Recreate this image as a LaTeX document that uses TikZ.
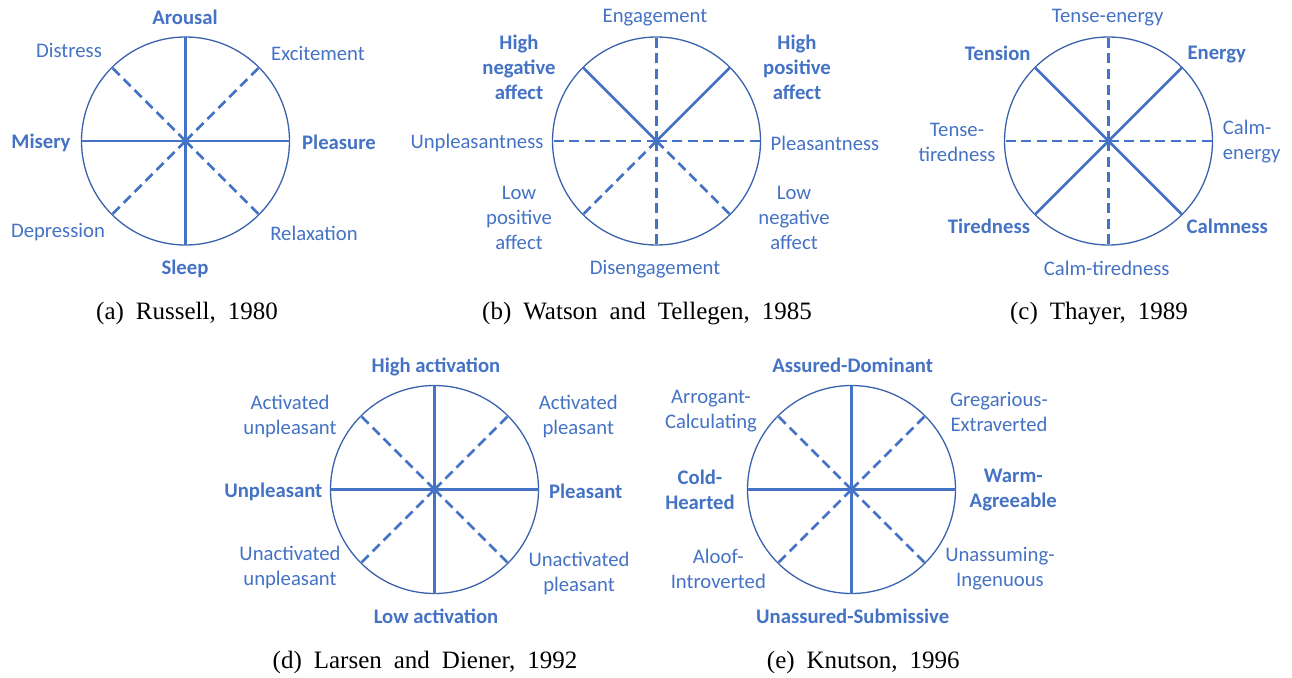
\documentclass[tikz,border=0pt]{standalone}
\usepackage{fontspec}
\setmainfont{Liberation Serif}
\newfontfamily\carl{Carlito}
\definecolor{lblue}{HTML}{4472C4}
\definecolor{cblue}{HTML}{3A62AC}
\newcommand\labfont{\carl\fontsize{20.7}{25}\selectfont}
\newcommand\capfont{\rmfamily\fontsize{25}{30}\selectfont\spaceskip=0.48em plus 0.1em\relax}
\tikzset{
 wheel/.style={circle, draw=cblue, line width=1.3pt, minimum size=208pt, inner sep=0pt, outer sep=0pt},
 axis/.style={draw=lblue, line width=2.6pt},
 dashaxis/.style={axis, dash pattern=on 10pt off 5.5pt},
 lbl/.style={text=lblue, font=\labfont, inner sep=0pt, align=center},
 blbl/.style={lbl, font=\labfont\bfseries},
 capt/.style={font=\capfont, inner sep=0pt},
}
\begin{document}
\begin{tikzpicture}[x=1pt,y=-1pt]
\useasboundingbox (0,0) rectangle (1292,677);

% ---------------- (a) Russell
\node[wheel] (A) at (185.5,141) {};
\draw[axis] (A.north) -- (A.south);
\draw[axis] (A.west) -- (A.east);
\foreach \d in {north east,north west,south east,south west}
  \draw[dashaxis] (A.center) -- (A.\d);
\node[blbl] (a1) at (185,17) {Arousal};
\node[lbl]  (a2) at (69,50) {Distress};
\node[lbl]  (a3) at (318,53) {Excitement};
\node[blbl] (a4) at (41,143) {Misery};
\node[blbl] (a5) at (339,142) {Pleasure};
\node[lbl]  (a6) at (58,232) {Depression};
\node[lbl]  (a7) at (314,233) {Relaxation};
\node[blbl] (a8) at (185,269) {Sleep};
\node[capt] (acap) at (187,313.5) {(a) Russell, 1980};

% ---------------- (b) Watson and Tellegen
\node[wheel] (B) at (656.5,141) {};
\foreach \d in {north,south,east,west,south east,south west}
  \draw[dashaxis] (B.center) -- (B.\d);
\draw[axis] (B.center) -- (B.north east);
\draw[axis] (B.center) -- (B.north west);
\node[lbl]  (b1) at (655,18) {Engagement};
\node[blbl] (b2) at (519,67) {High\\negative\\affect};
\node[blbl] (b3) at (797,67) {High\\positive\\affect};
\node[lbl]  (b4) at (477,143) {Unpleasantness};
\node[lbl]  (b5) at (825,143) {Pleasantness};
\node[lbl]  (b6) at (519,218) {Low\\positive\\affect};
\node[lbl]  (b7) at (794,218) {Low\\negative\\affect};
\node[lbl]  (b8) at (655,269.5) {Disengagement};
\node[capt] (bcap) at (647,313.5) {(b) Watson and Tellegen, 1985};

% ---------------- (c) Thayer
\node[wheel] (C) at (1108.5,141) {};
\foreach \d in {north,south,east,west}
  \draw[dashaxis] (C.center) -- (C.\d);
\draw[axis] (C.north east) -- (C.south west);
\draw[axis] (C.north west) -- (C.south east);
\node[lbl]  (c1) at (1107.7,18) {Tense-energy};
\node[blbl] (c2) at (997.7,53) {Tension};
\node[blbl] (c3) at (1216.7,54.5) {Energy};
\node[lbl]  (c4) at (957,142) {Tense-\\tiredness};
\node[lbl, align=left, anchor=west] (c5) at (1222.7,142) {Calm-\\energy};
\node[blbl] (c6) at (989,226) {Tiredness};
\node[blbl] (c7) at (1227.3,226) {Calmness};
\node[lbl]  (c8) at (1106.7,268) {Calm-tiredness};
\node[capt] (ccap) at (1099,313.5) {(c) Thayer, 1989};

% ---------------- (d) Larsen and Diener
\node[wheel] (D) at (434.5,489.5) {};
\draw[axis] (D.north) -- (D.south);
\draw[axis] (D.west) -- (D.east);
\foreach \d in {north east,north west,south east,south west}
  \draw[dashaxis] (D.center) -- (D.\d);
\node[blbl] (d1) at (436,366.5) {High activation};
\node[lbl]  (d2) at (290,416) {Activated\\unpleasant};
\node[lbl]  (d3) at (578.3,416) {Activated\\pleasant};
\node[blbl] (d4) at (273.3,491.5) {Unpleasant};
\node[blbl] (d5) at (585.7,491.5) {Pleasant};
\node[lbl]  (d6) at (290,567) {Unactivated\\unpleasant};
\node[lbl]  (d7) at (579,573) {Unactivated\\pleasant};
\node[blbl] (d8) at (436,616) {Low activation};
\node[capt] (dcap) at (425,662) {(d) Larsen and Diener, 1992};

% ---------------- (e) Knutson
\node[wheel] (E) at (851.5,489.5) {};
\draw[axis] (E.north) -- (E.south);
\draw[axis] (E.west) -- (E.east);
\foreach \d in {north east,north west,south east,south west}
  \draw[dashaxis] (E.center) -- (E.\d);
\node[blbl] (e1) at (852.7,365) {Assured-Dominant};
\node[lbl]  (e2) at (711,411.5) {Arrogant-\\Calculating};
\node[lbl]  (e3) at (999,411.5) {Gregarious-\\Extraverted};
\node[blbl] (e4) at (700,490) {Cold-\\Hearted};
\node[blbl] (e5) at (1013.3,490) {Warm-\\Agreeable};
\node[lbl]  (e6) at (718.3,568.5) {Aloof-\\Introverted};
\node[lbl]  (e7) at (1000,568.5) {Unassuming-\\Ingenuous};
\node[blbl] (e8) at (852.7,616) {Unassured-Submissive};
\node[capt] (ecap) at (863.3,662) {(e) Knutson, 1996};
\end{tikzpicture}
\end{document}
